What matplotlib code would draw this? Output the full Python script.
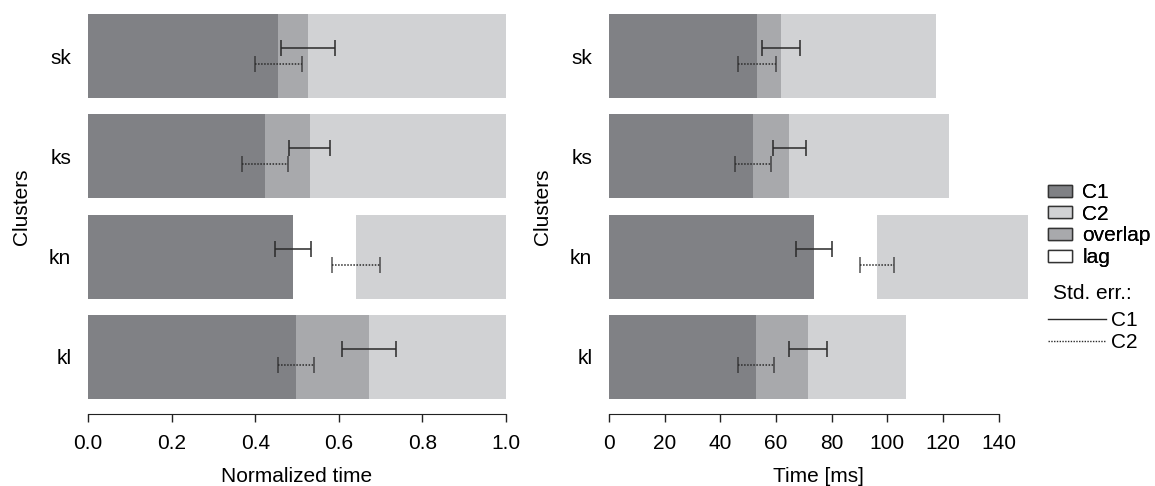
import numpy as np
import matplotlib
matplotlib.use("Agg")
import matplotlib.pyplot as plt
from matplotlib.patches import Patch
from matplotlib.lines import Line2D

plt.rcParams['font.family'] = ['Liberation Sans', 'DejaVu Sans']

clusters = ["sk", "ks", "kn", "kl"]

# normalized time panel
norm_c1_end = [0.526, 0.530, 0.490, 0.672]
norm_c2_start = [0.455, 0.423, 0.641, 0.498]
norm_c2_end = [1.0, 1.0, 1.0, 1.0]
norm_c1_err = [0.064, 0.049, 0.043, 0.065]
norm_c2_err = [0.056, 0.055, 0.057, 0.043]

# time in ms panel
ms_c1_end = [61.9, 64.7, 73.6, 71.6]
ms_c2_start = [53.2, 51.8, 96.4, 52.9]
ms_c2_end = [117.6, 122.3, 150.5, 106.5]
ms_c1_err = [6.8, 5.9, 6.4, 6.8]
ms_c2_err = [6.8, 6.5, 6.1, 6.4]

col_c1 = '#808185'
col_ov = '#a8a9ac'
col_c2 = '#d1d2d4'
col_err = '#2a2a2a'
FS = 15

W, H = 1155, 486
fig = plt.figure(figsize=(W / 100, H / 100), dpi=100)


def panel(rect, c1_end, c2_start, c2_end, c1_err, c2_err, xmax, ticks, ticklabels, xlabel):
    ax = fig.add_axes(rect)
    y = np.arange(len(clusters))
    h = 0.84
    c1_end = np.array(c1_end)
    c2_start = np.array(c2_start)
    c2_end = np.array(c2_end)
    dark_end = np.minimum(c1_end, c2_start)
    ax.barh(y, dark_end, height=h, color=col_c1, linewidth=0)
    ov = np.clip(c1_end - c2_start, 0, None)
    ax.barh(y, ov, left=c2_start, height=h, color=col_ov, linewidth=0)
    light_start = np.maximum(c1_end, c2_start)
    ax.barh(y, c2_end - light_start, left=light_start, height=h, color=col_c2, linewidth=0)

    ax.errorbar(c1_end, y - 0.08, xerr=c1_err, fmt='none', ecolor=col_err,
                elinewidth=1.1, capsize=5.5, capthick=1.1)
    eb = ax.errorbar(c2_start, y + 0.08, xerr=c2_err, fmt='none', ecolor=col_err,
                     elinewidth=1.1, capsize=5.5, capthick=1.1)
    eb[2][0].set_linestyle((0, (1, 1)))
    for cap in eb[1]:
        cap.set_alpha(0.8)

    ax.set_ylim(len(clusters) - 1 + h / 2, -h / 2)
    ax.set_xlim(0, xmax)
    ax.set_yticks(y)
    ax.set_yticklabels(clusters)
    ax.tick_params(axis='y', length=0, pad=12, labelsize=FS)
    ax.set_xticks(ticks)
    ax.set_xticklabels(ticklabels)
    ax.tick_params(axis='x', length=6, width=1, direction='out', pad=8,
                   color='#222222', labelsize=FS)
    for s in ['top', 'right', 'left']:
        ax.spines[s].set_visible(False)
    ax.spines['bottom'].set_position(('outward', 11))
    ax.spines['bottom'].set_bounds(ticks[0], ticks[-1])
    ax.spines['bottom'].set_color('#222222')
    ax.set_xlabel(xlabel, fontsize=FS, labelpad=10)
    ax.set_ylabel("Clusters", fontsize=FS, labelpad=13)
    return ax


bottom = (H - 399) / H
height = 385 / H
panel([88 / W, bottom, 418 / W, height], norm_c1_end, norm_c2_start, norm_c2_end,
      norm_c1_err, norm_c2_err, 1.0, [0, 0.2, 0.4, 0.6, 0.8, 1.0],
      ["0.0", "0.2", "0.4", "0.6", "0.8", "1.0"], "Normalized time")
panel([609 / W, bottom, 419 / W, height], ms_c1_end, ms_c2_start, ms_c2_end,
      ms_c1_err, ms_c2_err, 150.5, [0, 20, 40, 60, 80, 100, 120, 140],
      ["0", "20", "40", "60", "80", "100", "120", "140"], "Time [ms]")

handles = [Patch(facecolor=col_c1, edgecolor='#333333', label='C1'),
           Patch(facecolor=col_c2, edgecolor='#333333', label='C2'),
           Patch(facecolor=col_ov, edgecolor='#333333', label='overlap'),
           Patch(facecolor='white', edgecolor='#333333', label='lag')]
leg1 = fig.legend(handles=handles, loc='upper left', bbox_to_anchor=(1048 / W, 1 - 183 / H),
                  frameon=False, fontsize=FS, handlelength=1.15, handleheight=0.5,
                  labelspacing=0.13, handletextpad=0.5, borderpad=0, borderaxespad=0)

lines = [Line2D([], [], color=col_err, lw=1, label='C1'),
         Line2D([], [], color=col_err, lw=1, ls=(0, (1, 1)), label='C2')]
leg2 = fig.legend(handles=lines, loc='upper left', bbox_to_anchor=(1048 / W, 1 - 284 / H),
                  frameon=False, fontsize=FS, handlelength=2.8, labelspacing=0.15,
                  handletextpad=0.2, borderpad=0, borderaxespad=0,
                  title="Std. err.:", title_fontsize=FS)
leg2._legend_box.sep = 6
fig.add_artist(leg1)

fig.savefig("out.png", dpi=100)
